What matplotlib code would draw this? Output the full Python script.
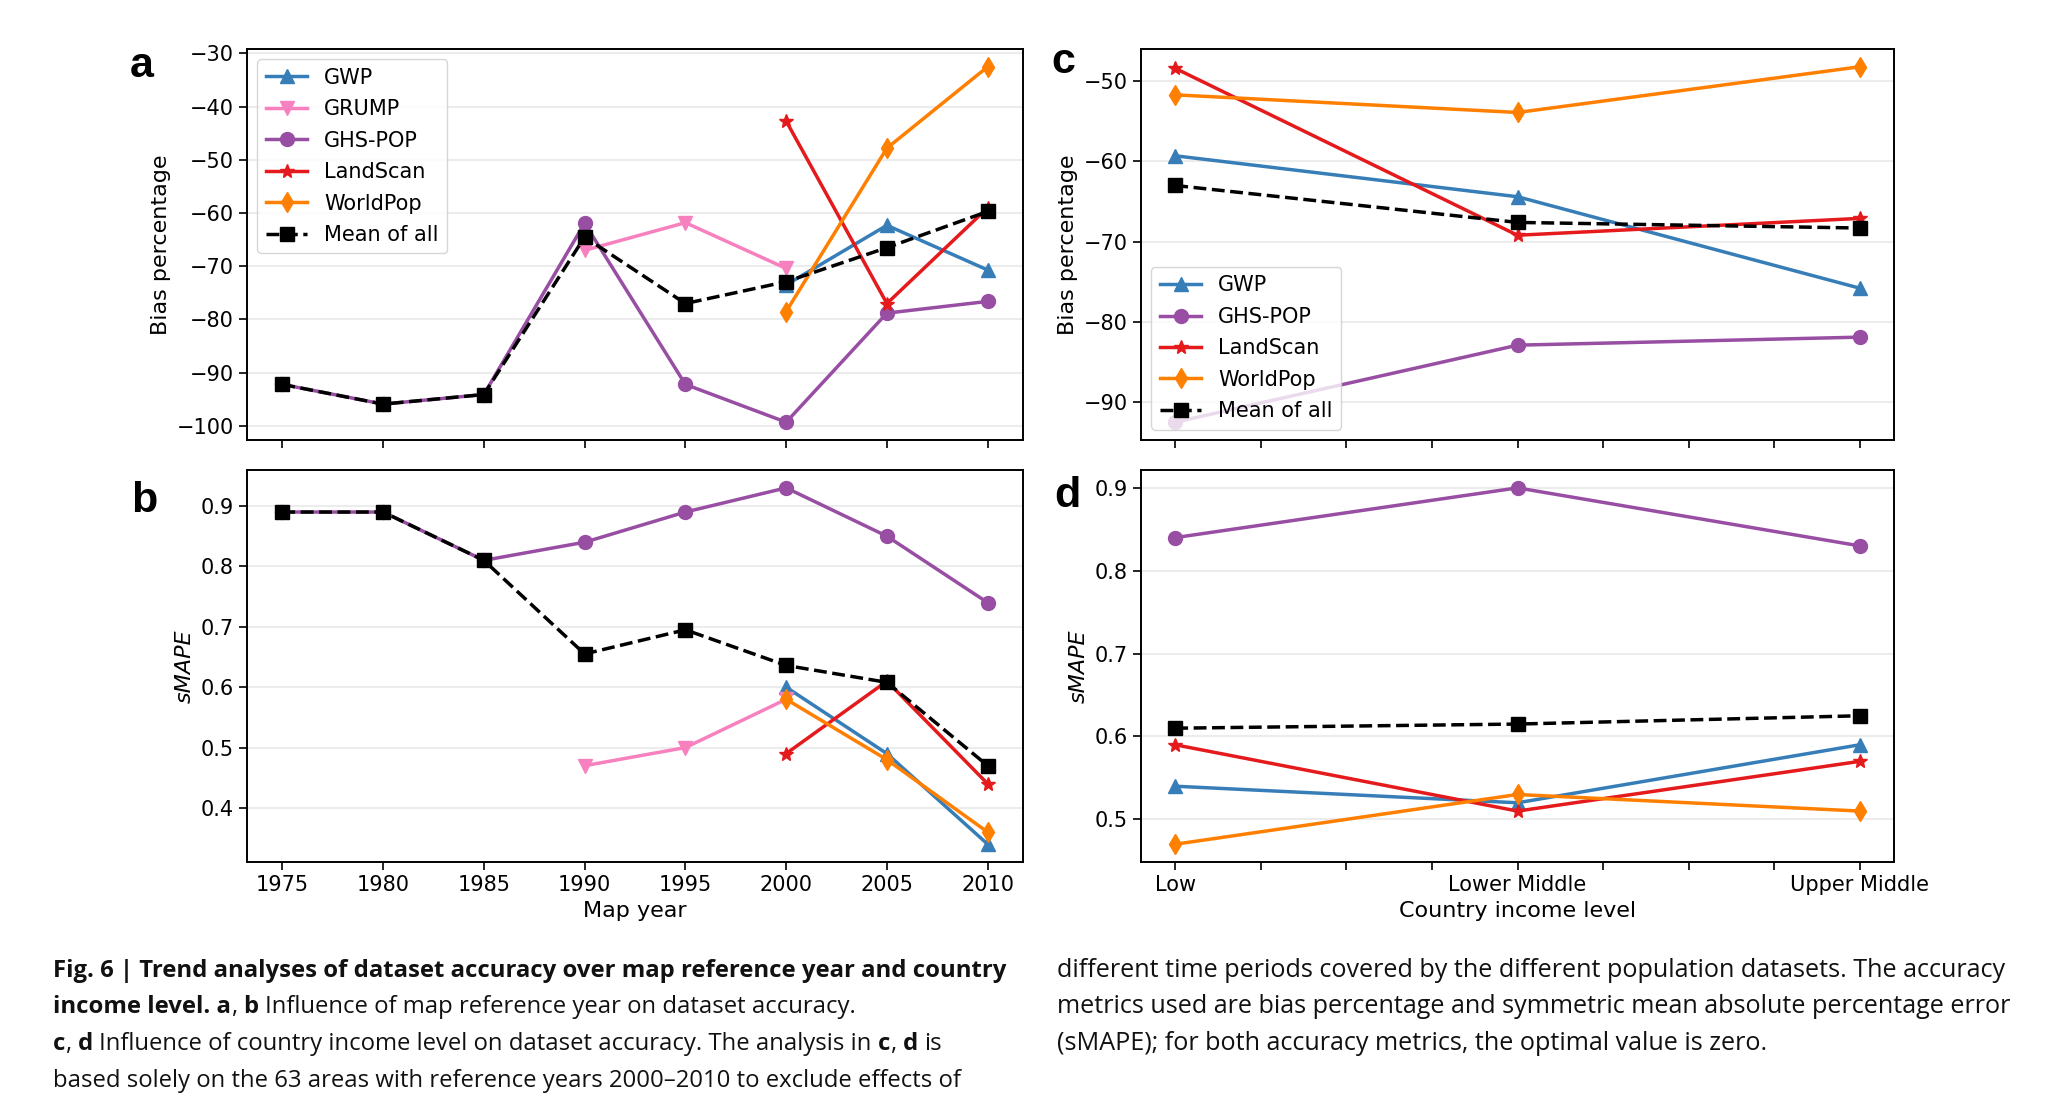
import numpy as np
import matplotlib
matplotlib.use("Agg")
import matplotlib.pyplot as plt
from matplotlib import font_manager

nan = np.nan

# x values
years = [1975, 1980, 1985, 1990, 1995, 2000, 2005, 2010]
income_levels = ["Low", "Lower Middle", "Upper Middle"]

# a: bias percentage by map year (nan = no map that year)
bias_year_gwp = [nan, nan, nan, nan, nan, -73.5, -62.3, -70.7]
bias_year_grump = [nan, nan, nan, -67.0, -61.8, -70.4, nan, nan]
bias_year_ghs = [-92.2, -95.9, -94.1, -61.9, -92.2, -99.3, -78.8, -76.6]
bias_year_landscan = [nan, nan, nan, nan, nan, -42.7, -77.0, -59.0]
bias_year_worldpop = [nan, nan, nan, nan, nan, -78.5, -47.8, -32.5]
bias_year_mean = [-92.2, -95.9, -94.1, -64.5, -77.0, -72.9, -66.5, -59.7]

# b: sMAPE by map year
smape_year_gwp = [nan, nan, nan, nan, nan, 0.60, 0.49, 0.34]
smape_year_grump = [nan, nan, nan, 0.47, 0.50, 0.58, nan, nan]
smape_year_ghs = [0.89, 0.89, 0.81, 0.84, 0.89, 0.93, 0.85, 0.74]
smape_year_landscan = [nan, nan, nan, nan, nan, 0.49, 0.61, 0.44]
smape_year_worldpop = [nan, nan, nan, nan, nan, 0.58, 0.48, 0.36]
smape_year_mean = [0.89, 0.89, 0.81, 0.655, 0.695, 0.636, 0.608, 0.47]

# c: bias percentage by income level
bias_inc_gwp = [-59.3, -64.4, -75.8]
bias_inc_ghs = [-92.5, -82.9, -81.9]
bias_inc_landscan = [-48.4, -69.2, -67.1]
bias_inc_worldpop = [-51.7, -53.9, -48.2]
bias_inc_mean = [-63.0, -67.6, -68.3]

# d: sMAPE by income level
smape_inc_gwp = [0.54, 0.52, 0.59]
smape_inc_ghs = [0.84, 0.90, 0.83]
smape_inc_landscan = [0.59, 0.51, 0.57]
smape_inc_worldpop = [0.47, 0.53, 0.51]
smape_inc_mean = [0.61, 0.615, 0.625]

styles = {
    "GWP": dict(color="#377eb8", marker="^"),
    "GRUMP": dict(color="#f781bf", marker="v"),
    "GHS-POP": dict(color="#984ea3", marker="o"),
    "LandScan": dict(color="#e41a1c", marker="*"),
    "WorldPop": dict(color="#ff7f00", marker="d"),
    "Mean of all": dict(color="black", marker="s", linestyle="--"),
}

fig = plt.figure(figsize=(20.5, 10.98), dpi=100)
ax_a = fig.add_axes([0.1205, 0.5993, 0.3785, 0.3561])
ax_b = fig.add_axes([0.1205, 0.2149, 0.3785, 0.3570])
ax_c = fig.add_axes([0.5566, 0.5993, 0.3673, 0.3561])
ax_d = fig.add_axes([0.5566, 0.2149, 0.3673, 0.3570])


def draw(ax, x, series):
    for name, vals in series:
        st = dict(styles[name])
        ax.plot(x, vals, label=name, lw=2.5, ms=10, **st)
    ax.grid(axis="y", color="#ececec", lw=1.5)
    ax.set_axisbelow(True)
    for sp in ax.spines.values():
        sp.set_linewidth(1.4)
    ax.tick_params(labelsize=15, length=6, width=1.2)


draw(ax_a, years, [("GWP", bias_year_gwp), ("GRUMP", bias_year_grump),
                   ("GHS-POP", bias_year_ghs), ("LandScan", bias_year_landscan),
                   ("WorldPop", bias_year_worldpop), ("Mean of all", bias_year_mean)])
draw(ax_b, years, [("GWP", smape_year_gwp), ("GRUMP", smape_year_grump),
                   ("GHS-POP", smape_year_ghs), ("LandScan", smape_year_landscan),
                   ("WorldPop", smape_year_worldpop), ("Mean of all", smape_year_mean)])
xi = np.arange(len(income_levels))
draw(ax_c, xi, [("GWP", bias_inc_gwp), ("GHS-POP", bias_inc_ghs),
                ("LandScan", bias_inc_landscan), ("WorldPop", bias_inc_worldpop),
                ("Mean of all", bias_inc_mean)])
draw(ax_d, xi, [("GWP", smape_inc_gwp), ("GHS-POP", smape_inc_ghs),
                ("LandScan", smape_inc_landscan), ("WorldPop", smape_inc_worldpop),
                ("Mean of all", smape_inc_mean)])

for ax in (ax_a, ax_b):
    ax.set_xticks(years)
ax_a.tick_params(labelbottom=False)
ax_b.set_xlabel("Map year", fontsize=16)

inc_ticks = np.arange(0, 2.01, 0.25)
inc_labels = ["" if t % 1 else income_levels[int(t)] for t in inc_ticks]
for ax in (ax_c, ax_d):
    ax.set_xticks(inc_ticks)
    ax.set_xticklabels(inc_labels)
ax_c.tick_params(labelbottom=False)
ax_d.set_xlabel("Country income level", fontsize=16)

for ax in (ax_a, ax_c):
    ax.set_ylabel("Bias percentage", fontsize=16)
for ax in (ax_b, ax_d):
    ax.set_ylabel("sMAPE", fontsize=16, fontstyle="italic")

ax_a.legend(loc="upper left", fontsize=15, labelspacing=0.55)
ax_c.legend(loc="lower left", fontsize=15, labelspacing=0.55)

# panel letters
for lx, ly, s in [(130, 77, "a"), (131, 512, "b"), (1051, 73, "c"), (1054, 507, "d")]:
    fig.text(lx / 2050, 1 - ly / 1098, s, fontsize=31, fontweight="bold",
             family="Liberation Sans", va="baseline", ha="left")

# caption font: first candidate that has a real bold face
cap_font = "Liberation Sans"
for fam in ["Open Sans", "Noto Sans", "Lato", "Liberation Sans"]:
    faces = [f for f in font_manager.fontManager.ttflist if f.name == fam]
    if any(f.weight in (600, 700, "bold", "semibold") or str(f.weight) in ("600", "700") for f in faces) \
            and any(f.weight in (400, "normal", "regular") for f in faces):
        cap_font = fam
        break

renderer = fig.canvas.get_renderer()


def text_w(s, size, bold):
    t = fig.text(0, 0, s, fontsize=size, family=cap_font,
                 fontweight="bold" if bold else "normal")
    w = t.get_window_extent(renderer).width
    t.remove()
    return w


def space_w(size):
    return text_w("x x", size, False) - text_w("xx", size, False)


def line_w(runs, size):
    sp = space_w(size)
    w = 0
    for s, bold in runs:
        core = s.strip()
        w += sp * (len(s) - len(s.lstrip()) + len(s) - len(s.rstrip()))
        if core:
            w += text_w(core, size, bold)
    return w


def draw_runs(x, y, runs, size):
    sp = space_w(size)
    for s, bold in runs:
        core = s.strip()
        x += sp * (len(s) - len(s.lstrip()))
        if core:
            t = fig.text(x / 2050, 1 - y / 1098, core, fontsize=size, family=cap_font,
                         fontweight="bold" if bold else "normal",
                         va="baseline", ha="left", color="#111111")
            x += t.get_window_extent(renderer).width
        x += sp * (len(s) - len(s.rstrip()))


left_lines = [
    [("Fig. 6 | Trend analyses of dataset accuracy over map reference year and country", True)],
    [("income level. a", True), (", ", False), ("b", True),
     (" Influence of map reference year on dataset accuracy.", False)],
    [("c", True), (", ", False), ("d", True),
     (" Influence of country income level on dataset accuracy. The analysis in ", False),
     ("c", True), (", ", False), ("d", True), (" is", False)],
    [("based solely on the 63 areas with reference years 2000\u20132010 to exclude effects of", False)],
]
right_lines = [
    [("different time periods covered by the different population datasets. The accuracy", False)],
    [("metrics used are bias percentage and symmetric mean absolute percentage error", False)],
    [("(sMAPE); for both accuracy metrics, the optimal value is zero.", False)],
]

base = 16
size_left = base * 952 / line_w(left_lines[0], base)
size_right = base * 948 / line_w(right_lines[0], base)
baselines = [977, 1013, 1050, 1087]
for ln, yb in zip(left_lines, baselines):
    draw_runs(53, yb, ln, size_left)
for ln, yb in zip(right_lines, baselines):
    draw_runs(1057, yb, ln, size_right)

fig.savefig("out.png", dpi=100)
